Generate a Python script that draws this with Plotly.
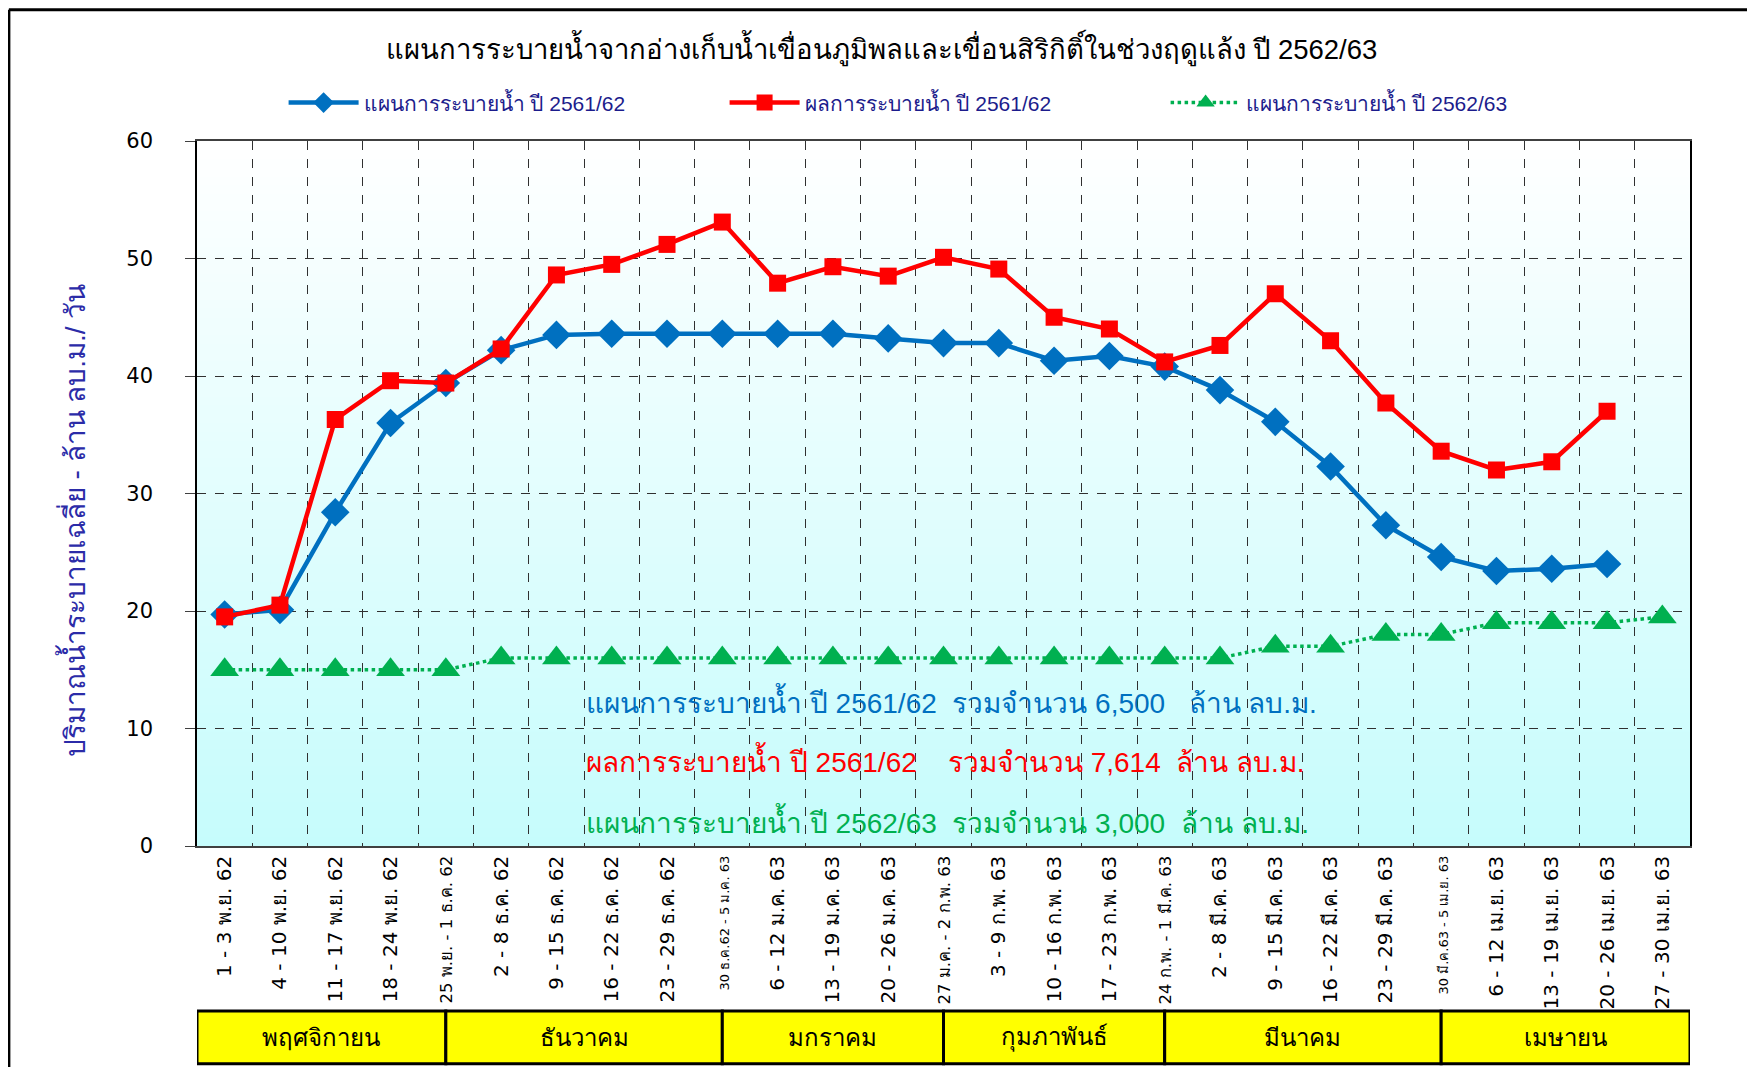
import plotly.graph_objects as go

# ---------------- data ----------------
categories = [
    "1 - 3 พ.ย. 62", "4 - 10 พ.ย. 62", "11 - 17 พ.ย. 62", "18 - 24 พ.ย. 62",
    "25 พ.ย. - 1 ธ.ค. 62", "2 - 8 ธ.ค. 62", "9 - 15 ธ.ค. 62", "16 - 22 ธ.ค. 62",
    "23 - 29 ธ.ค. 62", "30 ธ.ค.62 - 5 ม.ค. 63", "6 - 12 ม.ค. 63", "13 - 19 ม.ค. 63",
    "20 - 26 ม.ค. 63", "27 ม.ค. - 2 ก.พ. 63", "3 - 9 ก.พ. 63", "10 - 16 ก.พ. 63",
    "17 - 23 ก.พ. 63", "24 ก.พ. - 1 มี.ค. 63", "2 - 8 มี.ค. 63", "9 - 15 มี.ค. 63",
    "16 - 22 มี.ค. 63", "23 - 29 มี.ค. 63", "30 มี.ค.63 - 5 เม.ย. 63", "6 - 12 เม.ย. 63",
    "13 - 19 เม.ย. 63", "20 - 26 เม.ย. 63", "27 - 30 เม.ย. 63",
]
# label size class: 0 normal, 1 medium, 2 small
label_size_class = [0, 0, 0, 0, 1, 0, 0, 0, 0, 2, 0, 0, 0, 1, 0, 0, 0, 1, 0, 0, 0, 0, 2, 0, 0, 0, 0]

plan_2561_62 = [19.7, 20.1, 28.4, 36.0, 39.4, 42.2, 43.5, 43.6, 43.6, 43.6, 43.6, 43.6, 43.2,
                42.8, 42.8, 41.3, 41.7, 40.8, 38.8, 36.1, 32.3, 27.3, 24.6, 23.4, 23.6, 24.0]
result_2561_62 = [19.5, 20.5, 36.3, 39.6, 39.4, 42.3, 48.6, 49.5, 51.2, 53.1, 47.9, 49.3, 48.5,
                  50.1, 49.1, 45.0, 44.0, 41.2, 42.6, 47.0, 43.0, 37.7, 33.6, 32.0, 32.7, 37.0]
plan_2562_63 = [15, 15, 15, 15, 15, 16, 16, 16, 16, 16, 16, 16, 16, 16, 16, 16, 16, 16, 16,
                17, 17, 18, 18, 19, 19, 19, 19.5]

series_names = ["แผนการระบายน้ำ ปี 2561/62", "ผลการระบายน้ำ ปี 2561/62", "แผนการระบายน้ำ ปี 2562/63"]

months = ["พฤศจิกายน", "ธันวาคม", "มกราคม", "กุมภาพันธ์", "มีนาคม", "เมษายน"]
month_bounds = [-0.5, 4, 9, 13, 17, 22, 26.5]

summary_texts = [
    "แผนการระบายน้ำ ปี 2561/62  รวมจำนวน 6,500   ล้าน ลบ.ม.",
    "ผลการระบายน้ำ ปี 2561/62    รวมจำนวน 7,614  ล้าน ลบ.ม.",
    "แผนการระบายน้ำ ปี 2562/63  รวมจำนวน 3,000  ล้าน ลบ.ม.",
]
summary_y = [12.3, 7.3, 2.1]

title_text = "แผนการระบายน้ำจากอ่างเก็บน้ำเขื่อนภูมิพลและเขื่อนสิริกิติ์ในช่วงฤดูแล้ง ปี 2562/63"
y_title = "ปริมาณน้ำระบายเฉลี่ย - ล้าน ลบ.ม./ วัน"

# ---------------- styling ----------------
BLUE = "#0070C0"
RED = "#FF0000"
GREEN = "#00B050"
NAVY = "#1c1c8c"
FONT = "Liberation Sans, Arial, sans-serif"
TICKFONT = "DejaVu Sans, sans-serif"

size_map = {0: 20, 1: 16.5, 2: 13}
ticktext = [f'<span style="font-size:{size_map[c]}px">{t}</span>' for t, c in zip(categories, label_size_class)]

fig = go.Figure()
fig.add_trace(go.Scatter(
    x=categories[:len(plan_2561_62)], y=plan_2561_62, name=series_names[0],
    mode="lines+markers", line=dict(color=BLUE, width=4.5),
    marker=dict(symbol="diamond", size=22, color=BLUE)))
fig.add_trace(go.Scatter(
    x=categories[:len(result_2561_62)], y=result_2561_62, name=series_names[1],
    mode="lines+markers", line=dict(color=RED, width=4.5),
    marker=dict(symbol="square", size=17, color=RED)))
fig.add_trace(go.Scatter(
    x=categories, y=plan_2562_63, name=series_names[2],
    mode="lines+markers", line=dict(color=GREEN, width=3.5, dash="dot"),
    marker=dict(symbol="triangle-up", size=25, color=GREEN)))

shapes = []
# gradient background of the plot area
N = 80
top = (255, 255, 255)
bot = (198, 252, 252)
for i in range(N):
    f = (i + 0.5) / N
    c = tuple(round(bot[k] + (top[k] - bot[k]) * f) for k in range(3))
    shapes.append(dict(type="rect", xref="paper", yref="paper", x0=0, x1=1,
                       y0=i / N, y1=(i + 1) / N + 0.002, layer="below",
                       line=dict(width=0), fillcolor=f"rgb{c}"))

# month boxes
annotations = []
for i, m in enumerate(months):
    x0, x1 = month_bounds[i], month_bounds[i + 1]
    shapes.append(dict(type="rect", xref="x", yref="paper", x0=x0, x1=x1,
                       y0=-0.309, y1=-0.234, fillcolor="#FFFF00",
                       line=dict(color="black", width=3), layer="above"))
    annotations.append(dict(x=(x0 + x1) / 2, y=-0.271, xref="x", yref="paper",
                            yanchor="middle", text=m, showarrow=False,
                            font=dict(size=24, color="black", family=FONT)))

# outer frame (left + top lines)
shapes.append(dict(type="line", xref="paper", yref="paper", x0=-0.126, x1=1.05,
                   y0=1.186, y1=1.186, line=dict(color="black", width=3)))
shapes.append(dict(type="line", xref="paper", yref="paper", x0=-0.126, x1=-0.126,
                   y0=1.186, y1=-0.32, line=dict(color="black", width=3)))

for t, y, c in zip(summary_texts, summary_y, [BLUE, RED, GREEN]):
    annotations.append(dict(x=6.5, y=y, xref="x", yref="y", xanchor="left",
                            text=t.replace("  ", "&nbsp; "), showarrow=False,
                            font=dict(size=28, color=c, family=FONT)))

# y-axis title
annotations.append(dict(x=-0.083, y=0.462, xref="paper", yref="paper",
                        xanchor="center", yanchor="middle", textangle=-90,
                        text=y_title, showarrow=False,
                        font=dict(size=28, color="#2b2ba8", family=FONT)))

fig.update_layout(
    width=1747, height=1059,
    margin=dict(l=189, r=65, t=133, b=221, autoexpand=False),
    paper_bgcolor="white",
    plot_bgcolor="#e6ffff",
    font=dict(family=FONT, color="black"),
    title=dict(text=title_text, x=0.5, xanchor="center", y=0.961, yanchor="middle",
               font=dict(size=27.5, color="black", family=FONT)),
    legend=dict(orientation="h", x=0.058, xanchor="left", y=1.054, yanchor="middle",
                font=dict(size=21, color=NAVY, family=FONT),
                itemwidth=70, entrywidth=356, entrywidthmode="pixels",
                bgcolor="rgba(0,0,0,0)"),
    showlegend=True,
    xaxis=dict(type="category", categoryorder="array", categoryarray=categories,
               range=[-0.5, 26.5], tickson="boundaries", automargin=False,
               tickmode="array", tickvals=categories, ticktext=ticktext,
               tickangle=-90, ticks="", showgrid=True, gridcolor="#303030",
               griddash="dash", gridwidth=1,
               showline=True, linecolor="#404040", linewidth=1.5, mirror=True,
               tickfont=dict(size=20, color="black", family=TICKFONT), zeroline=False),
    yaxis=dict(range=[0, 60], dtick=10, tick0=0, showgrid=True, gridcolor="#303030",
               griddash="dash", gridwidth=1, automargin=False,
               ticks="outside", ticklen=10, tickcolor="#404040",
               showline=True, linecolor="black", linewidth=1.5, mirror=True,
               ticklabelstandoff=28,
               tickfont=dict(size=21, color="black", family="DejaVu Sans"),
               zeroline=False),
    shapes=shapes,
    annotations=annotations,
)

fig.write_html("out.html")
